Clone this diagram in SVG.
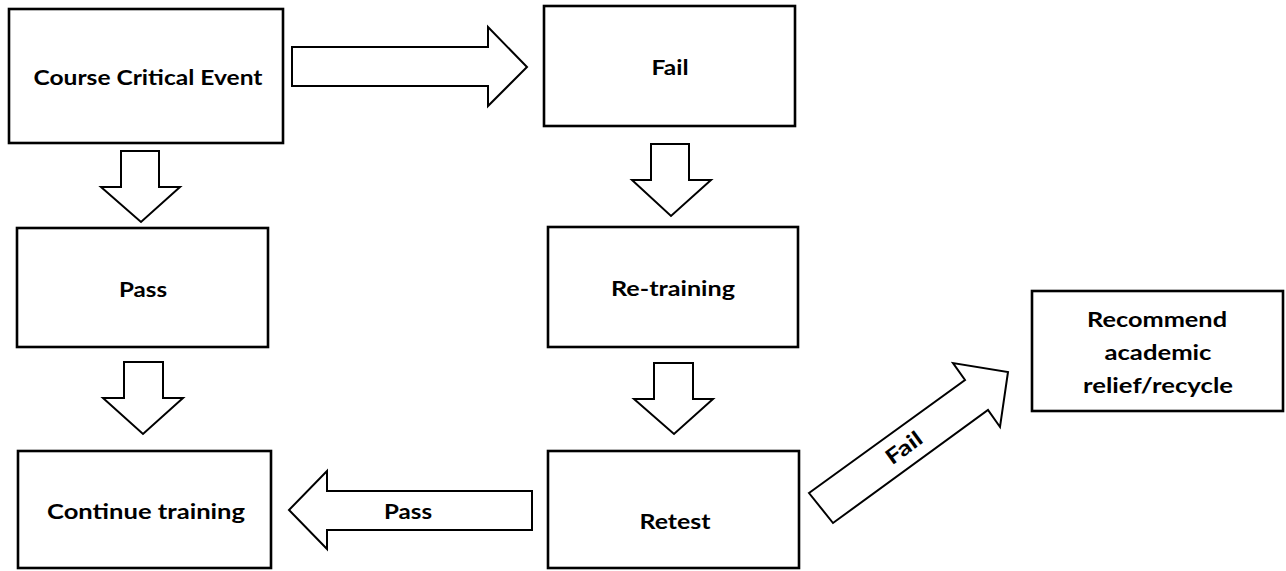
<svg xmlns="http://www.w3.org/2000/svg" width="1286" height="571" viewBox="0 0 1286 571">
<style>
.box{fill:#fff;stroke:#000;stroke-width:2.6}
.arr{fill:#fff;stroke:#000;stroke-width:2;stroke-linejoin:miter}
.t{font-family:Lato,"Open Sans","Liberation Sans",sans-serif;font-weight:700;font-size:21px;fill:#000;text-anchor:middle}
</style>
<rect width="1286" height="571" fill="#fff"/>
<g id="connectors">
<polygon class="arr" points="292,47 488,47 488,27 527,67 488,106 488,86 292,86"/>
<polygon class="arr" points="121,151 159,151 159,187 180,187 141,222 101,187 121,187"/>
<polygon class="arr" points="124,362 163,362 163,398 183,398 143,434 103,398 124,398"/>
<polygon class="arr" points="651,144 689,144 689,180 711,180 671,216 632,180 651,180"/>
<polygon class="arr" points="654,363 693,363 693,399 713,399 674,434 634,399 654,399"/>
<polygon class="arr" points="532,491 327,491 327,471 289,510 327,549 327,530 532,530"/>
<text class="t" x="408" y="519" textLength="48" lengthAdjust="spacingAndGlyphs">Pass</text>
<polygon class="arr" points="809,493 965,380 953,363 1008,372 1000,427 988,410 833,523"/>
<text class="t" x="904" y="455" textLength="40" lengthAdjust="spacingAndGlyphs" transform="rotate(-36 904 448)">Fail</text>
</g>
<g id="n-course">
<rect class="box" x="9" y="9" width="274" height="134"/>
<text class="t" x="148" y="85" textLength="229" lengthAdjust="spacingAndGlyphs">Course Critical Event</text>
</g>
<g id="n-fail">
<rect class="box" x="544" y="6" width="251" height="120"/>
<text class="t" x="670" y="75" textLength="37" lengthAdjust="spacingAndGlyphs">Fail</text>
</g>
<g id="n-pass">
<rect class="box" x="17" y="228" width="251" height="119"/>
<text class="t" x="143" y="297" textLength="48" lengthAdjust="spacingAndGlyphs">Pass</text>
</g>
<g id="n-retraining">
<rect class="box" x="548" y="227" width="250" height="120"/>
<text class="t" x="673" y="296" textLength="124" lengthAdjust="spacingAndGlyphs">Re-training</text>
</g>
<g id="n-continue">
<rect class="box" x="18" y="451" width="253" height="117"/>
<text class="t" x="146" y="519" textLength="198" lengthAdjust="spacingAndGlyphs">Continue training</text>
</g>
<g id="n-retest">
<rect class="box" x="548" y="451" width="251" height="117"/>
<text class="t" x="675" y="529" textLength="71" lengthAdjust="spacingAndGlyphs">Retest</text>
</g>
<g id="n-recommend">
<rect class="box" x="1032" y="291" width="251" height="120"/>
<text class="t" x="1157" y="327" textLength="140" lengthAdjust="spacingAndGlyphs">Recommend</text>
<text class="t" x="1158" y="360" textLength="107" lengthAdjust="spacingAndGlyphs">academic</text>
<text class="t" x="1158" y="393" textLength="150" lengthAdjust="spacingAndGlyphs">relief/recycle</text>
</g>
</svg>
